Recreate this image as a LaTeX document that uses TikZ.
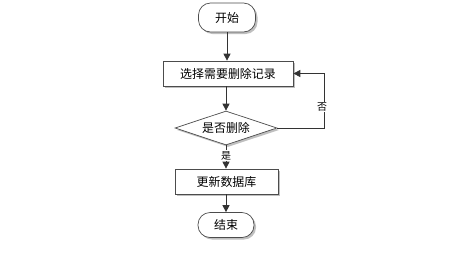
\documentclass[tikz,border=0pt]{standalone}
\usepackage{fontspec}
\setmainfont{Noto Sans CJK SC}
\usetikzlibrary{shapes.geometric,arrows.meta,shadows}
\begin{document}
\begin{tikzpicture}[x=1bp,y=-1bp,
  base/.style={draw=black!70,line width=0.7bp,fill=white,font=\fontsize{12}{14}\selectfont,inner sep=0pt,
    drop shadow={shadow xshift=2bp,shadow yshift=-2bp,fill=black!25,opacity=1}},
  term/.style={base,rounded corners=12bp,minimum width=57bp,minimum height=29bp},
  proc/.style={base,minimum height=25bp},
  dec/.style={base,diamond,aspect=3.1,minimum width=102bp,minimum height=34bp},
  arr/.style={draw=black!80,line width=0.8bp,-{Triangle[length=7bp,width=7bp]}},
  lab/.style={font=\fontsize{10}{12}\selectfont,fill=white,inner sep=1bp}]
\useasboundingbox (0,0) rectangle (455,259);
\node[term] (start) at (227,17.5) {开始};
\node[proc,minimum width=130bp] (sel) at (228,73.5) {选择需要删除记录};
\node[dec] (dec) at (226,128) {是否删除};
\node[proc,minimum width=103bp] (upd) at (226.5,181.5) {更新数据库};
\node[term,minimum width=56bp,minimum height=25bp] (end) at (226,225) {结束};
\coordinate (c1) at (324,128);
\coordinate (c2) at (324,73.5);
\draw[arr] (start) -- (sel.north -| start);
\draw[arr] (sel.south -| dec) -- (dec.north);
\draw[arr] (dec.south) -- (upd.north -| dec) node[lab,pos=0.45] {是};
\draw[arr] (upd.south -| end) -- (end.north);
\draw[arr] (dec.east) -- (c1) -- (c2) -- (sel.east);
\node[lab] (no) at (322,107) {否};
\end{tikzpicture}
\end{document}
